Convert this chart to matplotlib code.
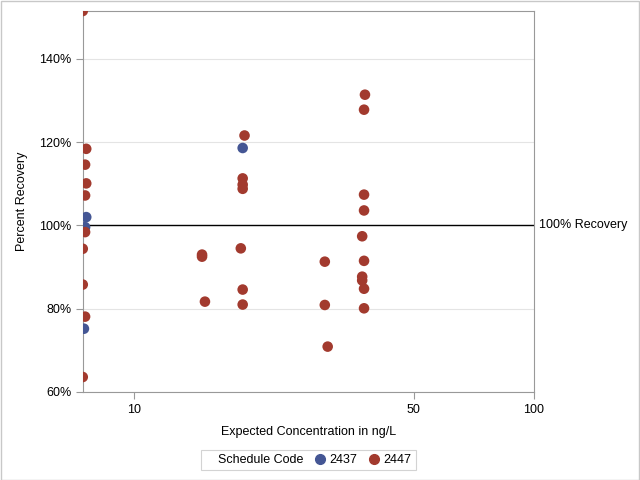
import matplotlib.pyplot as plt
from matplotlib.lines import Line2D
from matplotlib.ticker import FixedLocator, NullLocator, FuncFormatter

plt.rcParams['font.family'] = ['Liberation Sans', 'DejaVu Sans']
plt.rcParams['font.size'] = 9

# schedule 2437
x_2437 = [7.6, 7.55, 18.7, 7.5]
y_2437 = [102.0, 99.6, 118.6, 75.2]
# schedule 2447
x_2447 = [7.45, 7.6, 7.55, 7.6, 7.55, 7.55, 7.45, 7.45, 7.55, 7.45,
          14.8, 14.8, 15.05,
          18.9, 18.7, 18.7, 18.7, 18.5, 18.7, 18.7,
          30.0, 30.0, 30.5,
          37.8, 37.6, 37.6, 37.6, 37.2, 37.6, 37.2, 37.2, 37.6, 37.6]
y_2447 = [151.5, 118.4, 114.6, 110.1, 107.2, 98.4, 94.4, 85.8, 78.1, 63.6,
          93.0, 92.5, 81.7,
          121.6, 111.3, 109.8, 108.8, 94.5, 84.6, 81.0,
          91.3, 80.9, 70.9,
          131.4, 127.8, 107.4, 103.6, 97.4, 91.5, 87.7, 86.8, 84.8, 80.1]

blue = '#445694'
red = '#A23A2E'

fig = plt.figure(figsize=(6.4, 4.8), dpi=100)
ax = fig.add_axes([83 / 640, 1 - 392 / 480, (534 - 83) / 640, (392 - 11) / 480])

ax.scatter(x_2437, y_2437, s=58, color=blue, edgecolor='none', zorder=3)
ax.scatter(x_2447, y_2447, s=58, color=red, edgecolor='none', zorder=3)

ax.set_xscale('log')
ax.set_xlim(7.46, 100)
ax.set_ylim(60, 151.5)
ax.xaxis.set_major_locator(FixedLocator([10, 50, 100]))
ax.xaxis.set_minor_locator(NullLocator())
ax.xaxis.set_major_formatter(FuncFormatter(lambda v, p: '%g' % v))
ax.set_yticks([60, 80, 100, 120, 140])
ax.yaxis.set_major_formatter(FuncFormatter(lambda v, p: '%d%%' % v))

ax.grid(axis='y', color='#e4e4e4', linewidth=0.8, zorder=0)
ax.axhline(100, color='black', linewidth=1, zorder=2)
ax.text(1.012, 100, '100% Recovery', transform=ax.get_yaxis_transform(),
        va='center', ha='left')

for s in ax.spines.values():
    s.set_color('#999999')
ax.tick_params(colors='#999999', labelcolor='black', length=5)

ax.set_xlabel('Expected Concentration in ng/L', labelpad=7)
ax.set_ylabel('Percent Recovery', labelpad=8)

handles = [Line2D([], [], linestyle='none'),
           Line2D([], [], marker='o', linestyle='none', color=blue, markersize=7),
           Line2D([], [], marker='o', linestyle='none', color=red, markersize=7)]
leg = fig.legend(handles, ['Schedule Code', '2437', '2447'], ncol=3,
                 loc='center', bbox_to_anchor=(308 / 640, 1 - 460 / 480),
                 frameon=True, fancybox=False, handlelength=0.6,
                 handletextpad=0.5, columnspacing=1.0, borderpad=0.3)
leg.get_frame().set_edgecolor('#c8c8c8')
leg.get_frame().set_linewidth(0.8)

fig.patches.append(plt.Rectangle((0.001, 0.001), 0.998, 0.997, transform=fig.transFigure,
                                 fill=False, edgecolor='#c8c8c8', linewidth=1))

plt.savefig('out.png', dpi=100)
